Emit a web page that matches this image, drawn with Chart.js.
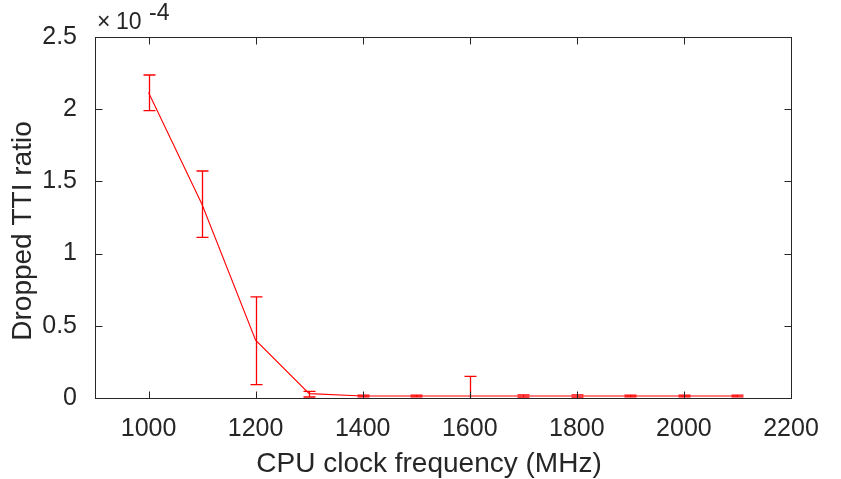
<!DOCTYPE html>
<html>
<head>
<meta charset="utf-8">
<script src="https://cdn.jsdelivr.net/npm/chart.js@4"></script>
<style>
  html, body { margin: 0; padding: 0; background: #ffffff; }
  #contenedor { width: 841px; height: 479px; }
</style>
</head>
<body>
<div id="contenedor"><canvas id="grafico"></canvas></div>
<script>
// Datos (ratio en unidades de 1e-4)
const frecuencias = [1000, 1100, 1200, 1300, 1400, 1500, 1600, 1700, 1800, 1900, 2000, 2100];
const ratioMedio = [2.115, 1.34, 0.40, 0.03, 0.014, 0.014, 0.014, 0.014, 0.014, 0.014, 0.014, 0.014];
const errorInferior = [1.99, 1.112, 0.092, 0.007, 0.008, 0.008, -0.12, 0.006, 0.006, 0.008, 0.008, 0.008];
const errorSuperior = [2.237, 1.572, 0.70, 0.046, 0.02, 0.02, 0.15, 0.022, 0.022, 0.02, 0.02, 0.02];
const ticksX = [1000, 1200, 1400, 1600, 1800, 2000, 2200];
const ticksY = [0, 0.5, 1, 1.5, 2, 2.5];

const tituloX = "CPU clock frequency (MHz)";
const tituloY = "Dropped TTI ratio";
const colorEje = "#262626";
const rojo = "#ff0000";
const fuente = "'Liberation Sans', Arial, sans-serif";

// Barras de error + marco con marcas hacia dentro (estilo MATLAB)
const pluginFigura = {
    id: "pluginFigura",
    afterDatasetsDraw(chart) {
        const { ctx, chartArea: a, scales: { x, y } } = chart;
        ctx.save();
        ctx.beginPath();
        ctx.rect(a.left, a.top, a.right - a.left, a.bottom - a.top);
        ctx.clip();
        ctx.strokeStyle = rojo;
        ctx.lineWidth = 1.3;
        frecuencias.forEach((f, i) => {
            const px = Math.round(x.getPixelForValue(f)) + 0.5;
            const yBajo = y.getPixelForValue(errorInferior[i]);
            const yAlto = y.getPixelForValue(errorSuperior[i]);
            ctx.beginPath();
            ctx.moveTo(px, yBajo);
            ctx.lineTo(px, yAlto);
            ctx.moveTo(px - 6, yBajo);
            ctx.lineTo(px + 6, yBajo);
            ctx.moveTo(px - 6, yAlto);
            ctx.lineTo(px + 6, yAlto);
            ctx.stroke();
        });
        ctx.restore();
    },
    afterDraw(chart) {
        const { ctx, chartArea: a, scales: { x, y } } = chart;
        const l = Math.round(a.left) + 0.5, r = Math.round(a.right) + 0.5;
        const t = Math.round(a.top) + 0.5, b = Math.round(a.bottom) + 0.5;
        ctx.save();
        ctx.strokeStyle = colorEje;
        ctx.lineWidth = 1;
        ctx.strokeRect(l, t, r - l, b - t);
        ctx.beginPath();
        ticksX.forEach(v => {
            const px = Math.round(x.getPixelForValue(v)) + 0.5;
            ctx.moveTo(px, b); ctx.lineTo(px, b - 7);
            ctx.moveTo(px, t); ctx.lineTo(px, t + 7);
        });
        ticksY.forEach(v => {
            const py = Math.round(y.getPixelForValue(v)) + 0.5;
            ctx.moveTo(l, py); ctx.lineTo(l + 7, py);
            ctx.moveTo(r, py); ctx.lineTo(r - 7, py);
        });
        ctx.stroke();

        ctx.fillStyle = colorEje;
        ctx.textBaseline = "alphabetic";
        // Exponente del eje Y
        ctx.font = "23px " + fuente;
        ctx.fillText("\u00d7", a.left + 2, a.top - 8);
        ctx.fillText("10", a.left + 21, a.top - 8);
        ctx.fillText("-4", a.left + 54, a.top - 17);

        // Títulos de los ejes
        ctx.font = "28px " + fuente;
        ctx.textAlign = "center";
        ctx.fillText(tituloX, 429, 472);
        ctx.translate(31, 231);
        ctx.rotate(-Math.PI / 2);
        ctx.fillText(tituloY, 0, 0);
        ctx.restore();
    }
};

const ctx = document.getElementById("grafico").getContext("2d");
new Chart(ctx, {
    type: "line",
    data: {
        datasets: [{
            label: tituloY,
            data: frecuencias.map((f, i) => ({ x: f, y: ratioMedio[i] })),
            borderColor: rojo,
            borderWidth: 1.1,
            pointRadius: 0,
            fill: false,
            tension: 0
        }]
    },
    options: {
        responsive: true,
        maintainAspectRatio: false,
        animation: false,
        layout: { padding: { left: 0, top: 37, right: 50, bottom: 0 } },
        plugins: { legend: { display: false }, tooltip: { enabled: false } },
        scales: {
            x: {
                type: "linear",
                min: 900,
                max: 2200,
                afterBuildTicks: s => { s.ticks = ticksX.map(v => ({ value: v })); },
                afterFit: s => { s.height = 81; },
                grid: { display: false },
                border: { display: false },
                ticks: {
                    color: colorEje,
                    font: { family: fuente, size: 25 },
                    padding: 8,
                    maxRotation: 0,
                    autoSkip: false,
                    callback: v => String(v)
                }
            },
            y: {
                min: 0,
                max: 2.5,
                afterBuildTicks: s => { s.ticks = ticksY.map(v => ({ value: v })); },
                afterFit: s => { s.width = 95; },
                grid: { display: false },
                border: { display: false },
                ticks: {
                    color: colorEje,
                    font: { family: fuente, size: 25 },
                    padding: 10,
                    callback: v => String(v)
                }
            }
        }
    },
    plugins: [pluginFigura]
});
</script>
</body>
</html>
